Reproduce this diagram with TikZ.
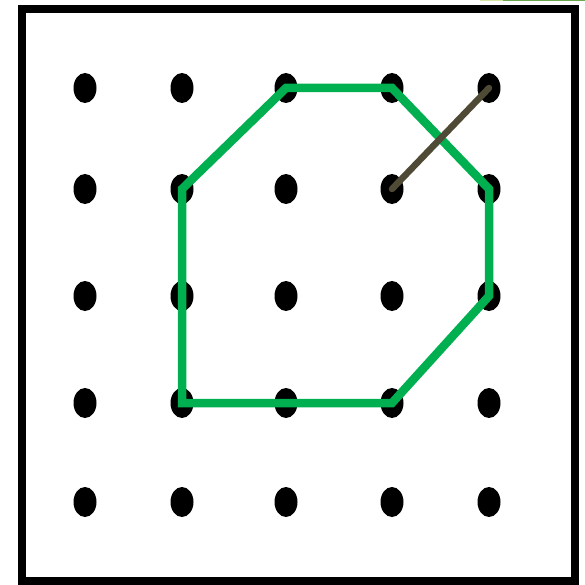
\documentclass[tikz,border=0pt]{standalone}
\usetikzlibrary{shapes.geometric}
\definecolor{polygreen}{HTML}{00B050}
\definecolor{stringbrown}{HTML}{4F4A35}
\definecolor{topgreen}{HTML}{6AA84F}
\definecolor{topgreenlight}{HTML}{D6E6A0}
\tikzset{
  peg/.style={ellipse, fill=black, inner sep=0pt, minimum width=23pt, minimum height=30pt},
  frameline/.style={draw=black, line width=8pt},
  polyline/.style={draw=polygreen, line width=8.5pt, line join=miter},
  stringline/.style={draw=stringbrown, line width=6.5pt, line cap=round}
}
\begin{document}
\begin{tikzpicture}[x=1pt,y=-1pt]
\useasboundingbox (0,0) rectangle (585,585);
\fill[white] (0,0) rectangle (585,585);
\fill[topgreenlight] (480,0) rectangle (503,1.5);
\fill[topgreen] (503,0) rectangle (585,1.5);
\draw[frameline] (22,9) rectangle (575,581);
\foreach \c/\x in {0/85,1/182,2/286,3/392,4/489}{
  \foreach \r/\y in {0/88,1/189,2/296,3/403,4/502}{
    \node[peg] (d\c\r) at (\x,\y) {};
  }
}
\draw[polyline] (d11.center) -- (d20.center) -- (d30.center) -- (d41.center) -- (d42.center) -- (d33.center) -- (d13.center) -- cycle;
\draw[stringline] (d31.center) -- (d40.center);
\end{tikzpicture}
\end{document}
